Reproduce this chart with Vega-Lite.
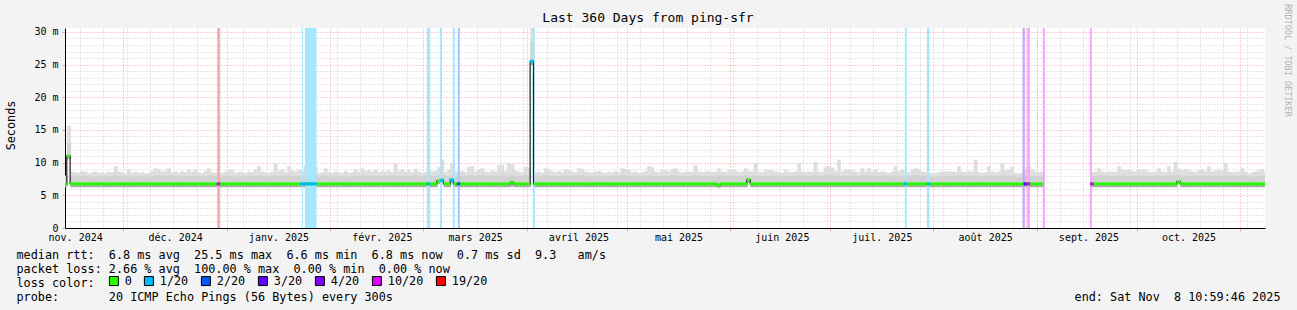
{
"$schema": "https://vega.github.io/schema/vega-lite/v6.json",
"width": 1200, "height": 200,
"autosize": {"type": "none"},
"padding": {"left": 65, "top": 28, "right": 32, "bottom": 82},
"background": "#f3f3f3",
"config": {
  "view": {"fill": "#ffffff", "stroke": null},
  "font": "DejaVu Sans Mono",
  "axis": {"labelFont": "DejaVu Sans Mono", "titleFont": "DejaVu Sans Mono", "titleFontWeight": "normal", "labelColor": "#000000", "titleColor": "#000000"}
},
"title": {"text": "Last 360 Days from ping-sfr", "font": "DejaVu Sans Mono", "fontSize": 13, "fontWeight": "normal", "color": "#000000", "anchor": "middle", "frame": "group", "dx": -17, "dy": 26, "offset": 5},
"datasets": {
"days": [
{"d":"2024-11-13","mx":8.0,"hi":7.8,"md":6.75,"lo":6.3},
{"d":"2024-11-14","mx":15.6,"hi":13.0,"md":11.0,"lo":10.6},
{"d":"2024-11-15","mx":8.6,"hi":7.9,"md":6.75,"lo":6.3},
{"d":"2024-11-16","mx":8.5,"hi":7.9,"md":6.75,"lo":6.3},
{"d":"2024-11-17","mx":8.4,"hi":7.8,"md":6.75,"lo":6.3},
{"d":"2024-11-18","mx":8.7,"hi":7.9,"md":6.75,"lo":6.3},
{"d":"2024-11-19","mx":8.6,"hi":7.9,"md":6.75,"lo":6.3},
{"d":"2024-11-20","mx":8.3,"hi":7.8,"md":6.75,"lo":6.3},
{"d":"2024-11-21","mx":8.5,"hi":7.9,"md":6.75,"lo":6.3},
{"d":"2024-11-22","mx":8.6,"hi":7.9,"md":6.75,"lo":6.3},
{"d":"2024-11-23","mx":8.4,"hi":7.8,"md":6.75,"lo":6.3},
{"d":"2024-11-24","mx":8.5,"hi":7.9,"md":6.75,"lo":6.3},
{"d":"2024-11-25","mx":8.3,"hi":7.8,"md":6.75,"lo":6.3},
{"d":"2024-11-26","mx":8.6,"hi":7.9,"md":6.75,"lo":6.3},
{"d":"2024-11-27","mx":8.5,"hi":7.9,"md":6.75,"lo":6.3},
{"d":"2024-11-28","mx":9.4,"hi":8.0,"md":6.75,"lo":6.3},
{"d":"2024-11-29","mx":8.6,"hi":7.9,"md":6.75,"lo":6.3},
{"d":"2024-11-30","mx":8.5,"hi":7.9,"md":6.75,"lo":6.3},
{"d":"2024-12-01","mx":8.3,"hi":7.8,"md":6.75,"lo":6.3},
{"d":"2024-12-02","mx":8.9,"hi":7.9,"md":6.75,"lo":6.3},
{"d":"2024-12-03","mx":8.4,"hi":7.8,"md":6.75,"lo":6.3},
{"d":"2024-12-04","mx":8.6,"hi":7.9,"md":6.75,"lo":6.3},
{"d":"2024-12-05","mx":8.4,"hi":7.8,"md":6.75,"lo":6.3},
{"d":"2024-12-06","mx":8.5,"hi":7.9,"md":6.75,"lo":6.3},
{"d":"2024-12-07","mx":8.3,"hi":7.8,"md":6.75,"lo":6.3},
{"d":"2024-12-08","mx":8.4,"hi":7.8,"md":6.75,"lo":6.3},
{"d":"2024-12-09","mx":8.7,"hi":7.9,"md":6.75,"lo":6.3},
{"d":"2024-12-10","mx":9.1,"hi":8.0,"md":6.75,"lo":6.3},
{"d":"2024-12-11","mx":9.0,"hi":8.0,"md":6.75,"lo":6.3},
{"d":"2024-12-12","mx":8.6,"hi":7.9,"md":6.75,"lo":6.3},
{"d":"2024-12-13","mx":8.8,"hi":7.9,"md":6.75,"lo":6.3},
{"d":"2024-12-14","mx":9.1,"hi":8.0,"md":6.75,"lo":6.3},
{"d":"2024-12-15","mx":8.5,"hi":7.9,"md":6.75,"lo":6.3},
{"d":"2024-12-16","mx":8.6,"hi":7.9,"md":6.75,"lo":6.3},
{"d":"2024-12-17","mx":8.4,"hi":7.8,"md":6.75,"lo":6.3},
{"d":"2024-12-18","mx":8.7,"hi":7.9,"md":6.75,"lo":6.3},
{"d":"2024-12-19","mx":8.5,"hi":7.9,"md":6.75,"lo":6.3},
{"d":"2024-12-20","mx":8.9,"hi":7.9,"md":6.75,"lo":6.3},
{"d":"2024-12-21","mx":8.6,"hi":7.9,"md":6.75,"lo":6.3},
{"d":"2024-12-22","mx":8.9,"hi":7.9,"md":6.75,"lo":6.3},
{"d":"2024-12-23","mx":8.5,"hi":7.9,"md":6.75,"lo":6.3},
{"d":"2024-12-24","mx":8.4,"hi":7.8,"md":6.75,"lo":6.3},
{"d":"2024-12-25","mx":8.7,"hi":7.9,"md":6.75,"lo":6.3},
{"d":"2024-12-26","mx":9.1,"hi":8.0,"md":6.75,"lo":6.3},
{"d":"2024-12-27","mx":8.5,"hi":7.9,"md":6.75,"lo":6.3},
{"d":"2024-12-28","mx":8.4,"hi":7.8,"md":6.75,"lo":6.3},
{"d":"2024-12-29","mx":8.3,"hi":7.8,"md":6.75,"lo":6.3},
{"d":"2024-12-30","mx":8.4,"hi":7.8,"md":6.75,"lo":6.3},
{"d":"2024-12-31","mx":8.6,"hi":7.9,"md":6.75,"lo":6.3},
{"d":"2025-01-01","mx":8.9,"hi":7.9,"md":6.75,"lo":6.3},
{"d":"2025-01-02","mx":8.9,"hi":7.9,"md":6.75,"lo":6.3},
{"d":"2025-01-03","mx":8.4,"hi":7.8,"md":6.75,"lo":6.3},
{"d":"2025-01-04","mx":8.6,"hi":7.9,"md":6.75,"lo":6.3},
{"d":"2025-01-05","mx":8.5,"hi":7.9,"md":6.75,"lo":6.3},
{"d":"2025-01-06","mx":8.3,"hi":7.8,"md":6.75,"lo":6.3},
{"d":"2025-01-07","mx":8.6,"hi":7.9,"md":6.75,"lo":6.3},
{"d":"2025-01-08","mx":8.5,"hi":7.9,"md":6.75,"lo":6.3},
{"d":"2025-01-09","mx":8.9,"hi":7.9,"md":6.75,"lo":6.3},
{"d":"2025-01-10","mx":9.4,"hi":8.0,"md":6.75,"lo":6.3},
{"d":"2025-01-11","mx":8.6,"hi":7.9,"md":6.75,"lo":6.3},
{"d":"2025-01-12","mx":8.5,"hi":7.9,"md":6.75,"lo":6.3},
{"d":"2025-01-13","mx":8.4,"hi":7.8,"md":6.75,"lo":6.3},
{"d":"2025-01-14","mx":8.6,"hi":7.9,"md":6.75,"lo":6.3},
{"d":"2025-01-15","mx":9.9,"hi":8.0,"md":6.75,"lo":6.3},
{"d":"2025-01-16","mx":8.7,"hi":7.9,"md":6.75,"lo":6.3},
{"d":"2025-01-17","mx":8.9,"hi":7.9,"md":6.75,"lo":6.3},
{"d":"2025-01-18","mx":8.5,"hi":7.9,"md":6.75,"lo":6.3},
{"d":"2025-01-19","mx":9.4,"hi":8.0,"md":6.75,"lo":6.3},
{"d":"2025-01-20","mx":8.8,"hi":7.9,"md":6.75,"lo":6.3},
{"d":"2025-01-21","mx":8.6,"hi":7.9,"md":6.75,"lo":6.3},
{"d":"2025-01-22","mx":8.9,"hi":7.9,"md":6.75,"lo":6.3},
{"d":"2025-01-23","mx":8.7,"hi":7.9,"md":6.75,"lo":6.3},
{"d":"2025-01-24","mx":9.5,"hi":8.0,"md":6.75,"lo":6.3},
{"d":"2025-01-25","mx":9.7,"hi":8.0,"md":6.75,"lo":6.3},
{"d":"2025-01-26","mx":9.0,"hi":8.0,"md":6.75,"lo":6.3},
{"d":"2025-01-27","mx":9.4,"hi":8.0,"md":6.75,"lo":6.3},
{"d":"2025-01-28","mx":8.4,"hi":7.8,"md":6.75,"lo":6.3},
{"d":"2025-01-29","mx":8.5,"hi":7.9,"md":6.75,"lo":6.3},
{"d":"2025-01-30","mx":9.1,"hi":8.0,"md":6.75,"lo":6.3},
{"d":"2025-01-31","mx":8.5,"hi":7.9,"md":6.75,"lo":6.3},
{"d":"2025-02-01","mx":8.4,"hi":7.8,"md":6.75,"lo":6.3},
{"d":"2025-02-02","mx":8.6,"hi":7.9,"md":6.75,"lo":6.3},
{"d":"2025-02-03","mx":8.5,"hi":7.9,"md":6.75,"lo":6.3},
{"d":"2025-02-04","mx":8.4,"hi":7.8,"md":6.75,"lo":6.3},
{"d":"2025-02-05","mx":8.7,"hi":7.9,"md":6.75,"lo":6.3},
{"d":"2025-02-06","mx":8.4,"hi":7.8,"md":6.75,"lo":6.3},
{"d":"2025-02-07","mx":8.5,"hi":7.9,"md":6.75,"lo":6.3},
{"d":"2025-02-08","mx":8.9,"hi":7.9,"md":6.75,"lo":6.3},
{"d":"2025-02-09","mx":8.6,"hi":7.9,"md":6.75,"lo":6.3},
{"d":"2025-02-10","mx":9.1,"hi":8.0,"md":6.75,"lo":6.3},
{"d":"2025-02-11","mx":8.7,"hi":7.9,"md":6.75,"lo":6.3},
{"d":"2025-02-12","mx":8.8,"hi":7.9,"md":6.75,"lo":6.3},
{"d":"2025-02-13","mx":8.6,"hi":7.9,"md":6.75,"lo":6.3},
{"d":"2025-02-14","mx":8.9,"hi":7.9,"md":6.75,"lo":6.3},
{"d":"2025-02-15","mx":8.5,"hi":7.9,"md":6.75,"lo":6.3},
{"d":"2025-02-16","mx":8.7,"hi":7.9,"md":6.75,"lo":6.3},
{"d":"2025-02-17","mx":8.6,"hi":7.9,"md":6.75,"lo":6.3},
{"d":"2025-02-18","mx":8.8,"hi":7.9,"md":6.75,"lo":6.3},
{"d":"2025-02-19","mx":8.5,"hi":7.9,"md":6.75,"lo":6.3},
{"d":"2025-02-20","mx":9.9,"hi":8.0,"md":6.75,"lo":6.3},
{"d":"2025-02-21","mx":8.7,"hi":7.9,"md":6.75,"lo":6.3},
{"d":"2025-02-22","mx":8.9,"hi":7.9,"md":6.75,"lo":6.3},
{"d":"2025-02-23","mx":8.6,"hi":7.9,"md":6.75,"lo":6.3},
{"d":"2025-02-24","mx":8.8,"hi":7.9,"md":6.75,"lo":6.3},
{"d":"2025-02-25","mx":8.5,"hi":7.9,"md":6.75,"lo":6.3},
{"d":"2025-02-26","mx":9.0,"hi":8.0,"md":6.75,"lo":6.3},
{"d":"2025-02-27","mx":8.6,"hi":7.9,"md":6.75,"lo":6.3},
{"d":"2025-02-28","mx":8.4,"hi":7.8,"md":6.75,"lo":6.3},
{"d":"2025-03-01","mx":8.5,"hi":7.9,"md":6.75,"lo":6.3},
{"d":"2025-03-02","mx":8.8,"hi":7.9,"md":6.75,"lo":6.3},
{"d":"2025-03-03","mx":8.6,"hi":7.9,"md":6.75,"lo":6.3},
{"d":"2025-03-04","mx":8.7,"hi":7.9,"md":6.75,"lo":6.3},
{"d":"2025-03-05","mx":9.3,"hi":8.0,"md":7.2,"lo":6.8},
{"d":"2025-03-06","mx":10.4,"hi":8.1,"md":7.3,"lo":6.9},
{"d":"2025-03-07","mx":8.5,"hi":7.9,"md":6.75,"lo":6.3},
{"d":"2025-03-08","mx":8.9,"hi":7.9,"md":6.75,"lo":6.3},
{"d":"2025-03-09","mx":9.9,"hi":8.1,"md":7.35,"lo":6.9},
{"d":"2025-03-10","mx":8.6,"hi":7.9,"md":6.75,"lo":6.3},
{"d":"2025-03-11","mx":8.5,"hi":7.9,"md":6.75,"lo":6.3},
{"d":"2025-03-12","mx":8.7,"hi":7.9,"md":6.75,"lo":6.3},
{"d":"2025-03-13","mx":8.5,"hi":7.9,"md":6.75,"lo":6.3},
{"d":"2025-03-14","mx":9.3,"hi":8.0,"md":6.75,"lo":6.3},
{"d":"2025-03-15","mx":9.4,"hi":8.0,"md":6.75,"lo":6.3},
{"d":"2025-03-16","mx":8.6,"hi":7.9,"md":6.75,"lo":6.3},
{"d":"2025-03-17","mx":9.0,"hi":8.0,"md":6.75,"lo":6.3},
{"d":"2025-03-18","mx":9.1,"hi":8.0,"md":6.75,"lo":6.3},
{"d":"2025-03-19","mx":8.6,"hi":7.9,"md":6.75,"lo":6.3},
{"d":"2025-03-20","mx":8.5,"hi":7.9,"md":6.75,"lo":6.3},
{"d":"2025-03-21","mx":8.8,"hi":7.9,"md":6.75,"lo":6.3},
{"d":"2025-03-22","mx":8.6,"hi":7.9,"md":6.75,"lo":6.3},
{"d":"2025-03-23","mx":9.6,"hi":8.0,"md":6.75,"lo":6.3},
{"d":"2025-03-24","mx":9.6,"hi":8.0,"md":6.75,"lo":6.3},
{"d":"2025-03-25","mx":8.7,"hi":7.9,"md":6.75,"lo":6.3},
{"d":"2025-03-26","mx":9.9,"hi":8.0,"md":6.75,"lo":6.3},
{"d":"2025-03-27","mx":9.7,"hi":8.0,"md":7.0,"lo":6.4},
{"d":"2025-03-28","mx":8.8,"hi":7.9,"md":6.75,"lo":6.3},
{"d":"2025-03-29","mx":8.6,"hi":7.9,"md":6.75,"lo":6.3},
{"d":"2025-03-30","mx":8.5,"hi":7.9,"md":6.75,"lo":6.3},
{"d":"2025-03-31","mx":9.3,"hi":8.0,"md":6.75,"lo":6.3},
{"d":"2025-04-01","mx":9.2,"hi":8.0,"md":6.75,"lo":6.3},
{"d":"2025-04-02","mx":31.0,"hi":28.5,"md":25.5,"lo":25.0},
{"d":"2025-04-03","mx":8.5,"hi":7.9,"md":6.75,"lo":6.3},
{"d":"2025-04-04","mx":8.6,"hi":7.9,"md":6.75,"lo":6.3},
{"d":"2025-04-05","mx":8.4,"hi":7.8,"md":6.75,"lo":6.3},
{"d":"2025-04-06","mx":9.1,"hi":8.0,"md":6.75,"lo":6.3},
{"d":"2025-04-07","mx":9.0,"hi":8.0,"md":6.75,"lo":6.3},
{"d":"2025-04-08","mx":8.6,"hi":7.9,"md":6.75,"lo":6.3},
{"d":"2025-04-09","mx":8.5,"hi":7.9,"md":6.75,"lo":6.3},
{"d":"2025-04-10","mx":8.7,"hi":7.9,"md":6.75,"lo":6.3},
{"d":"2025-04-11","mx":8.5,"hi":7.9,"md":6.75,"lo":6.3},
{"d":"2025-04-12","mx":8.9,"hi":7.9,"md":6.75,"lo":6.3},
{"d":"2025-04-13","mx":8.8,"hi":7.9,"md":6.75,"lo":6.3},
{"d":"2025-04-14","mx":8.6,"hi":7.9,"md":6.75,"lo":6.3},
{"d":"2025-04-15","mx":8.5,"hi":7.9,"md":6.75,"lo":6.3},
{"d":"2025-04-16","mx":9.1,"hi":8.0,"md":6.75,"lo":6.3},
{"d":"2025-04-17","mx":9.0,"hi":8.0,"md":6.75,"lo":6.3},
{"d":"2025-04-18","mx":8.6,"hi":7.9,"md":6.75,"lo":6.3},
{"d":"2025-04-19","mx":8.5,"hi":7.9,"md":6.75,"lo":6.3},
{"d":"2025-04-20","mx":8.4,"hi":7.8,"md":6.75,"lo":6.3},
{"d":"2025-04-21","mx":8.6,"hi":7.9,"md":6.75,"lo":6.3},
{"d":"2025-04-22","mx":8.7,"hi":7.9,"md":6.75,"lo":6.3},
{"d":"2025-04-23","mx":8.5,"hi":7.9,"md":6.75,"lo":6.3},
{"d":"2025-04-24","mx":8.4,"hi":7.8,"md":6.75,"lo":6.3},
{"d":"2025-04-25","mx":8.6,"hi":7.9,"md":6.75,"lo":6.3},
{"d":"2025-04-26","mx":8.5,"hi":7.9,"md":6.75,"lo":6.3},
{"d":"2025-04-27","mx":8.7,"hi":7.9,"md":6.75,"lo":6.3},
{"d":"2025-04-28","mx":8.5,"hi":7.9,"md":6.75,"lo":6.3},
{"d":"2025-04-29","mx":9.1,"hi":8.0,"md":6.75,"lo":6.3},
{"d":"2025-04-30","mx":9.0,"hi":8.0,"md":6.75,"lo":6.3},
{"d":"2025-05-01","mx":8.9,"hi":7.9,"md":6.75,"lo":6.3},
{"d":"2025-05-02","mx":8.5,"hi":7.9,"md":6.75,"lo":6.3},
{"d":"2025-05-03","mx":8.6,"hi":7.9,"md":6.75,"lo":6.3},
{"d":"2025-05-04","mx":8.4,"hi":7.8,"md":6.75,"lo":6.3},
{"d":"2025-05-05","mx":8.5,"hi":7.9,"md":6.75,"lo":6.3},
{"d":"2025-05-06","mx":8.7,"hi":7.9,"md":6.75,"lo":6.3},
{"d":"2025-05-07","mx":9.4,"hi":8.0,"md":6.75,"lo":6.3},
{"d":"2025-05-08","mx":9.3,"hi":8.0,"md":6.75,"lo":6.3},
{"d":"2025-05-09","mx":8.6,"hi":7.9,"md":6.75,"lo":6.3},
{"d":"2025-05-10","mx":8.5,"hi":7.9,"md":6.75,"lo":6.3},
{"d":"2025-05-11","mx":8.9,"hi":7.9,"md":6.75,"lo":6.3},
{"d":"2025-05-12","mx":8.8,"hi":7.9,"md":6.75,"lo":6.3},
{"d":"2025-05-13","mx":8.6,"hi":7.9,"md":6.75,"lo":6.3},
{"d":"2025-05-14","mx":9.0,"hi":8.0,"md":6.75,"lo":6.3},
{"d":"2025-05-15","mx":9.1,"hi":8.0,"md":6.75,"lo":6.3},
{"d":"2025-05-16","mx":8.6,"hi":7.9,"md":6.75,"lo":6.3},
{"d":"2025-05-17","mx":8.5,"hi":7.9,"md":6.75,"lo":6.3},
{"d":"2025-05-18","mx":8.6,"hi":7.9,"md":6.75,"lo":6.3},
{"d":"2025-05-19","mx":8.6,"hi":7.9,"md":6.75,"lo":6.3},
{"d":"2025-05-20","mx":8.5,"hi":7.9,"md":6.75,"lo":6.3},
{"d":"2025-05-21","mx":9.6,"hi":8.0,"md":6.75,"lo":6.3},
{"d":"2025-05-22","mx":8.6,"hi":7.9,"md":6.75,"lo":6.3},
{"d":"2025-05-23","mx":8.5,"hi":7.9,"md":6.75,"lo":6.3},
{"d":"2025-05-24","mx":8.6,"hi":7.9,"md":6.75,"lo":6.3},
{"d":"2025-05-25","mx":8.7,"hi":7.9,"md":6.75,"lo":6.3},
{"d":"2025-05-26","mx":8.5,"hi":7.9,"md":6.75,"lo":6.3},
{"d":"2025-05-27","mx":8.6,"hi":7.9,"md":6.75,"lo":6.3},
{"d":"2025-05-28","mx":9.1,"hi":8.0,"md":6.55,"lo":6.2},
{"d":"2025-05-29","mx":8.6,"hi":7.9,"md":6.75,"lo":6.3},
{"d":"2025-05-30","mx":8.5,"hi":7.9,"md":6.75,"lo":6.3},
{"d":"2025-05-31","mx":8.9,"hi":7.9,"md":6.75,"lo":6.3},
{"d":"2025-06-01","mx":8.9,"hi":7.9,"md":6.75,"lo":6.3},
{"d":"2025-06-02","mx":8.8,"hi":7.9,"md":6.75,"lo":6.3},
{"d":"2025-06-03","mx":8.5,"hi":7.9,"md":6.75,"lo":6.3},
{"d":"2025-06-04","mx":8.6,"hi":7.9,"md":6.75,"lo":6.3},
{"d":"2025-06-05","mx":9.1,"hi":8.0,"md":6.75,"lo":6.3},
{"d":"2025-06-06","mx":8.7,"hi":8.0,"md":7.4,"lo":7.0},
{"d":"2025-06-07","mx":8.6,"hi":7.9,"md":6.75,"lo":6.3},
{"d":"2025-06-08","mx":9.9,"hi":8.0,"md":6.75,"lo":6.3},
{"d":"2025-06-09","mx":8.6,"hi":7.9,"md":6.75,"lo":6.3},
{"d":"2025-06-10","mx":8.5,"hi":7.9,"md":6.75,"lo":6.3},
{"d":"2025-06-11","mx":8.9,"hi":7.9,"md":6.75,"lo":6.3},
{"d":"2025-06-12","mx":8.9,"hi":7.9,"md":6.75,"lo":6.3},
{"d":"2025-06-13","mx":8.8,"hi":7.9,"md":6.75,"lo":6.3},
{"d":"2025-06-14","mx":8.6,"hi":7.9,"md":6.75,"lo":6.3},
{"d":"2025-06-15","mx":8.5,"hi":7.9,"md":6.75,"lo":6.3},
{"d":"2025-06-16","mx":8.4,"hi":7.8,"md":6.75,"lo":6.3},
{"d":"2025-06-17","mx":8.9,"hi":7.9,"md":6.75,"lo":6.3},
{"d":"2025-06-18","mx":8.6,"hi":7.9,"md":6.75,"lo":6.3},
{"d":"2025-06-19","mx":8.5,"hi":7.9,"md":6.75,"lo":6.3},
{"d":"2025-06-20","mx":8.6,"hi":7.9,"md":6.75,"lo":6.3},
{"d":"2025-06-21","mx":9.9,"hi":8.0,"md":6.75,"lo":6.3},
{"d":"2025-06-22","mx":8.6,"hi":7.9,"md":6.75,"lo":6.3},
{"d":"2025-06-23","mx":8.5,"hi":7.9,"md":6.75,"lo":6.3},
{"d":"2025-06-24","mx":8.6,"hi":7.9,"md":6.75,"lo":6.3},
{"d":"2025-06-25","mx":8.5,"hi":7.9,"md":6.75,"lo":6.3},
{"d":"2025-06-26","mx":10.1,"hi":8.0,"md":6.75,"lo":6.3},
{"d":"2025-06-27","mx":8.6,"hi":7.9,"md":6.75,"lo":6.3},
{"d":"2025-06-28","mx":8.5,"hi":7.9,"md":6.75,"lo":6.3},
{"d":"2025-06-29","mx":9.3,"hi":8.0,"md":6.75,"lo":6.3},
{"d":"2025-06-30","mx":9.4,"hi":8.0,"md":6.75,"lo":6.3},
{"d":"2025-07-01","mx":9.2,"hi":8.0,"md":6.75,"lo":6.3},
{"d":"2025-07-02","mx":8.7,"hi":7.9,"md":6.75,"lo":6.3},
{"d":"2025-07-03","mx":10.4,"hi":8.0,"md":6.75,"lo":6.3},
{"d":"2025-07-04","mx":8.6,"hi":7.9,"md":6.75,"lo":6.3},
{"d":"2025-07-05","mx":8.9,"hi":7.9,"md":6.75,"lo":6.3},
{"d":"2025-07-06","mx":8.9,"hi":7.9,"md":6.75,"lo":6.3},
{"d":"2025-07-07","mx":8.8,"hi":7.9,"md":6.75,"lo":6.3},
{"d":"2025-07-08","mx":8.6,"hi":7.9,"md":6.75,"lo":6.3},
{"d":"2025-07-09","mx":8.5,"hi":7.9,"md":6.75,"lo":6.3},
{"d":"2025-07-10","mx":9.1,"hi":8.0,"md":6.75,"lo":6.3},
{"d":"2025-07-11","mx":8.6,"hi":7.9,"md":6.75,"lo":6.3},
{"d":"2025-07-12","mx":9.1,"hi":8.0,"md":6.75,"lo":6.3},
{"d":"2025-07-13","mx":8.6,"hi":7.9,"md":6.75,"lo":6.3},
{"d":"2025-07-14","mx":8.9,"hi":7.9,"md":6.75,"lo":6.3},
{"d":"2025-07-15","mx":8.5,"hi":7.9,"md":6.75,"lo":6.3},
{"d":"2025-07-16","mx":8.6,"hi":7.9,"md":6.75,"lo":6.3},
{"d":"2025-07-17","mx":8.5,"hi":7.9,"md":6.75,"lo":6.3},
{"d":"2025-07-18","mx":8.4,"hi":7.8,"md":6.75,"lo":6.3},
{"d":"2025-07-19","mx":8.6,"hi":7.9,"md":6.75,"lo":6.3},
{"d":"2025-07-20","mx":9.4,"hi":8.0,"md":6.75,"lo":6.3},
{"d":"2025-07-21","mx":8.7,"hi":7.9,"md":6.75,"lo":6.3},
{"d":"2025-07-22","mx":8.9,"hi":7.9,"md":6.75,"lo":6.3},
{"d":"2025-07-23","mx":8.6,"hi":7.9,"md":6.75,"lo":6.3},
{"d":"2025-07-24","mx":8.5,"hi":7.9,"md":6.75,"lo":6.3},
{"d":"2025-07-25","mx":8.9,"hi":7.9,"md":6.75,"lo":6.3},
{"d":"2025-07-26","mx":9.1,"hi":8.0,"md":6.75,"lo":6.3},
{"d":"2025-07-27","mx":9.0,"hi":8.0,"md":6.75,"lo":6.3},
{"d":"2025-07-28","mx":8.6,"hi":7.9,"md":6.75,"lo":6.3},
{"d":"2025-07-29","mx":8.5,"hi":7.9,"md":6.75,"lo":6.3},
{"d":"2025-07-30","mx":8.4,"hi":7.8,"md":6.75,"lo":6.3},
{"d":"2025-07-31","mx":8.3,"hi":7.8,"md":6.75,"lo":6.3},
{"d":"2025-08-01","mx":8.4,"hi":7.8,"md":6.75,"lo":6.3},
{"d":"2025-08-02","mx":8.5,"hi":7.9,"md":6.75,"lo":6.3},
{"d":"2025-08-03","mx":8.6,"hi":7.9,"md":6.75,"lo":6.3},
{"d":"2025-08-04","mx":8.6,"hi":7.9,"md":6.75,"lo":6.3},
{"d":"2025-08-05","mx":8.7,"hi":7.9,"md":6.75,"lo":6.3},
{"d":"2025-08-06","mx":8.6,"hi":7.9,"md":6.75,"lo":6.3},
{"d":"2025-08-07","mx":8.5,"hi":7.9,"md":6.75,"lo":6.3},
{"d":"2025-08-08","mx":9.4,"hi":8.0,"md":6.75,"lo":6.3},
{"d":"2025-08-09","mx":8.6,"hi":7.9,"md":6.75,"lo":6.3},
{"d":"2025-08-10","mx":8.5,"hi":7.9,"md":6.75,"lo":6.3},
{"d":"2025-08-11","mx":8.7,"hi":7.9,"md":6.75,"lo":6.3},
{"d":"2025-08-12","mx":8.6,"hi":7.9,"md":6.75,"lo":6.3},
{"d":"2025-08-13","mx":10.4,"hi":8.0,"md":6.75,"lo":6.3},
{"d":"2025-08-14","mx":8.5,"hi":7.9,"md":6.75,"lo":6.3},
{"d":"2025-08-15","mx":8.4,"hi":7.8,"md":6.75,"lo":6.3},
{"d":"2025-08-16","mx":8.5,"hi":7.9,"md":6.75,"lo":6.3},
{"d":"2025-08-17","mx":9.4,"hi":8.0,"md":6.75,"lo":6.3},
{"d":"2025-08-18","mx":8.6,"hi":7.9,"md":6.75,"lo":6.3},
{"d":"2025-08-19","mx":8.5,"hi":7.9,"md":6.75,"lo":6.3},
{"d":"2025-08-20","mx":8.6,"hi":7.9,"md":6.75,"lo":6.3},
{"d":"2025-08-21","mx":9.9,"hi":8.0,"md":6.75,"lo":6.3},
{"d":"2025-08-22","mx":8.8,"hi":7.9,"md":6.75,"lo":6.3},
{"d":"2025-08-23","mx":8.9,"hi":7.9,"md":6.75,"lo":6.3},
{"d":"2025-08-24","mx":9.3,"hi":8.0,"md":6.75,"lo":6.3},
{"d":"2025-08-25","mx":8.4,"hi":7.8,"md":6.75,"lo":6.3},
{"d":"2025-08-26","mx":8.3,"hi":7.8,"md":6.75,"lo":6.3},
{"d":"2025-08-27","mx":8.4,"hi":7.8,"md":6.75,"lo":6.3},
{"d":"2025-08-28","mx":9.0,"hi":8.0,"md":6.75,"lo":6.3},
{"d":"2025-08-29","mx":9.4,"hi":8.0,"md":6.75,"lo":6.3},
{"d":"2025-08-30","mx":8.9,"hi":7.9,"md":6.75,"lo":6.3},
{"d":"2025-08-31","mx":8.6,"hi":7.9,"md":6.75,"lo":6.3},
{"d":"2025-09-01","mx":8.5,"hi":7.9,"md":6.75,"lo":6.3},
{"d":"2025-09-02","mx":8.6,"hi":7.9,"md":6.75,"lo":6.3},
{"d":"2025-09-17","mx":8.5,"hi":7.9,"md":6.75,"lo":6.3},
{"d":"2025-09-18","mx":8.6,"hi":7.9,"md":6.75,"lo":6.3},
{"d":"2025-09-19","mx":9.1,"hi":8.0,"md":6.75,"lo":6.3},
{"d":"2025-09-20","mx":8.6,"hi":7.9,"md":6.75,"lo":6.3},
{"d":"2025-09-21","mx":8.5,"hi":7.9,"md":6.75,"lo":6.3},
{"d":"2025-09-22","mx":8.6,"hi":7.9,"md":6.75,"lo":6.3},
{"d":"2025-09-23","mx":8.6,"hi":7.9,"md":6.75,"lo":6.3},
{"d":"2025-09-24","mx":8.5,"hi":7.9,"md":6.75,"lo":6.3},
{"d":"2025-09-25","mx":9.4,"hi":8.0,"md":6.75,"lo":6.3},
{"d":"2025-09-26","mx":8.9,"hi":7.9,"md":6.75,"lo":6.3},
{"d":"2025-09-27","mx":8.8,"hi":7.9,"md":6.75,"lo":6.3},
{"d":"2025-09-28","mx":8.9,"hi":7.9,"md":6.75,"lo":6.3},
{"d":"2025-09-29","mx":8.7,"hi":7.9,"md":6.75,"lo":6.3},
{"d":"2025-09-30","mx":8.6,"hi":7.9,"md":6.75,"lo":6.3},
{"d":"2025-10-01","mx":8.9,"hi":7.9,"md":6.75,"lo":6.3},
{"d":"2025-10-02","mx":8.8,"hi":7.9,"md":6.75,"lo":6.3},
{"d":"2025-10-03","mx":8.9,"hi":7.9,"md":6.75,"lo":6.3},
{"d":"2025-10-04","mx":8.6,"hi":7.9,"md":6.75,"lo":6.3},
{"d":"2025-10-05","mx":8.5,"hi":7.9,"md":6.75,"lo":6.3},
{"d":"2025-10-06","mx":8.6,"hi":7.9,"md":6.75,"lo":6.3},
{"d":"2025-10-07","mx":9.1,"hi":8.0,"md":6.75,"lo":6.3},
{"d":"2025-10-08","mx":8.6,"hi":7.9,"md":6.75,"lo":6.3},
{"d":"2025-10-09","mx":8.5,"hi":7.9,"md":6.75,"lo":6.3},
{"d":"2025-10-10","mx":9.4,"hi":8.0,"md":6.75,"lo":6.3},
{"d":"2025-10-11","mx":8.6,"hi":7.9,"md":6.75,"lo":6.3},
{"d":"2025-10-12","mx":10.1,"hi":8.0,"md":6.75,"lo":6.3},
{"d":"2025-10-13","mx":9.0,"hi":8.0,"md":7.1,"lo":6.85},
{"d":"2025-10-14","mx":8.8,"hi":7.9,"md":6.75,"lo":6.3},
{"d":"2025-10-15","mx":8.9,"hi":7.9,"md":6.75,"lo":6.3},
{"d":"2025-10-16","mx":8.8,"hi":7.9,"md":6.75,"lo":6.3},
{"d":"2025-10-17","mx":8.6,"hi":7.9,"md":6.75,"lo":6.3},
{"d":"2025-10-18","mx":8.5,"hi":7.9,"md":6.75,"lo":6.3},
{"d":"2025-10-19","mx":8.8,"hi":7.9,"md":6.75,"lo":6.3},
{"d":"2025-10-20","mx":8.9,"hi":7.9,"md":6.75,"lo":6.3},
{"d":"2025-10-21","mx":8.6,"hi":7.9,"md":6.75,"lo":6.3},
{"d":"2025-10-22","mx":9.4,"hi":8.0,"md":6.75,"lo":6.3},
{"d":"2025-10-23","mx":8.6,"hi":7.9,"md":6.75,"lo":6.3},
{"d":"2025-10-24","mx":8.8,"hi":7.9,"md":6.75,"lo":6.3},
{"d":"2025-10-25","mx":8.9,"hi":7.9,"md":6.75,"lo":6.3},
{"d":"2025-10-26","mx":8.7,"hi":7.9,"md":6.75,"lo":6.3},
{"d":"2025-10-27","mx":9.9,"hi":8.0,"md":6.75,"lo":6.3},
{"d":"2025-10-28","mx":8.6,"hi":7.9,"md":6.75,"lo":6.3},
{"d":"2025-10-29","mx":8.5,"hi":7.9,"md":6.75,"lo":6.3},
{"d":"2025-10-30","mx":8.6,"hi":7.9,"md":6.75,"lo":6.3},
{"d":"2025-10-31","mx":8.6,"hi":7.9,"md":6.75,"lo":6.3},
{"d":"2025-11-01","mx":9.1,"hi":8.0,"md":6.75,"lo":6.3},
{"d":"2025-11-02","mx":8.6,"hi":7.9,"md":6.75,"lo":6.3},
{"d":"2025-11-03","mx":8.3,"hi":7.8,"md":6.75,"lo":6.3},
{"d":"2025-11-04","mx":8.5,"hi":7.9,"md":6.75,"lo":6.3},
{"d":"2025-11-05","mx":8.6,"hi":7.9,"md":6.75,"lo":6.3},
{"d":"2025-11-06","mx":8.8,"hi":7.9,"md":6.75,"lo":6.3},
{"d":"2025-11-07","mx":8.9,"hi":7.9,"md":6.75,"lo":6.3},
{"d":"2025-11-08","mx":8.5,"hi":7.9,"md":6.75,"lo":6.3}
],
"markers": [
{"d":"2024-12-29","md":6.75,"loss":"10/20"},
{"d":"2025-01-23","md":6.75,"loss":"1/20"},
{"d":"2025-01-24","md":6.75,"loss":"1/20"},
{"d":"2025-01-25","md":6.75,"loss":"1/20"},
{"d":"2025-01-26","md":6.75,"loss":"1/20"},
{"d":"2025-01-27","md":6.75,"loss":"1/20"},
{"d":"2025-03-02","md":6.75,"loss":"1/20"},
{"d":"2025-03-06","md":7.3,"loss":"1/20"},
{"d":"2025-03-09","md":7.35,"loss":"1/20"},
{"d":"2025-03-11","md":6.75,"loss":"2/20"},
{"d":"2025-04-02","md":25.5,"loss":"1/20"},
{"d":"2025-07-23","md":6.75,"loss":"1/20"},
{"d":"2025-07-30","md":6.75,"loss":"1/20"},
{"d":"2025-08-28","md":6.75,"loss":"3/20"},
{"d":"2025-08-29","md":6.75,"loss":"10/20"},
{"d":"2025-09-17","md":6.75,"loss":"10/20"}
],
"lossbars": [
{"s":"2024-12-29T02:00:00Z","e":"2024-12-29T09:00:00Z","loss":"10/20"},
{"s":"2024-12-29T09:00:00Z","e":"2024-12-29T22:00:00Z","loss":"19/20"},
{"s":"2025-01-23T12:00:00Z","e":"2025-01-23T19:00:00Z","loss":"1/20"},
{"s":"2025-01-24T10:00:00Z","e":"2025-01-27T22:00:00Z","loss":"1/20"},
{"s":"2025-03-02T00:00:00Z","e":"2025-03-02T22:00:00Z","loss":"1/20"},
{"s":"2025-03-06T00:00:00Z","e":"2025-03-06T14:00:00Z","loss":"1/20"},
{"s":"2025-03-09T19:00:00Z","e":"2025-03-10T10:00:00Z","loss":"1/20"},
{"s":"2025-03-11T07:00:00Z","e":"2025-03-11T22:00:00Z","loss":"2/20"},
{"s":"2025-04-02T19:00:00Z","e":"2025-04-03T10:00:00Z","loss":"1/20"},
{"s":"2025-07-23T10:00:00Z","e":"2025-07-24T00:00:00Z","loss":"1/20"},
{"s":"2025-07-30T00:00:00Z","e":"2025-07-30T19:00:00Z","loss":"1/20"},
{"s":"2025-08-27T17:00:00Z","e":"2025-08-28T10:00:00Z","loss":"3/20"},
{"s":"2025-08-28T22:00:00Z","e":"2025-08-29T05:00:00Z","loss":"19/20"},
{"s":"2025-08-29T05:00:00Z","e":"2025-08-29T22:00:00Z","loss":"10/20"},
{"s":"2025-09-02T19:00:00Z","e":"2025-09-03T10:00:00Z","loss":"10/20"},
{"s":"2025-09-16T22:00:00Z","e":"2025-09-17T12:00:00Z","loss":"10/20"}
]
},
"layer": [
{
 "data": {"name": "days"},
 "mark": {"type": "rect", "clip": true, "fill": "#dedede", "stroke": "#dedede", "strokeWidth": 0.5},
 "encoding": {
  "x": {"field": "d", "type": "temporal", "timeUnit": "utcyearmonthdate",
        "scale": {"type": "utc", "nice": false, "domain": [{"year": 2024, "month": 11, "date": 13, "hours": 11, "utc": true}, {"year": 2025, "month": 11, "date": 8, "hours": 11, "utc": true}]},
        "axis": {"orient": "bottom", "values": [1731888000000,1732492800000,1733097600000,1733702400000,1734307200000,1734912000000,1735516800000,1736121600000,1736726400000,1737331200000,1737936000000,1738540800000,1739145600000,1739750400000,1740355200000,1740960000000,1741564800000,1742169600000,1742774400000,1743379200000,1743984000000,1744588800000,1745193600000,1745798400000,1746403200000,1747008000000,1747612800000,1748217600000,1748822400000,1749427200000,1750032000000,1750636800000,1751241600000,1751846400000,1752451200000,1753056000000,1753660800000,1754265600000,1754870400000,1755475200000,1756080000000,1756684800000,1757289600000,1757894400000,1758499200000,1759104000000,1759708800000,1760313600000,1760918400000,1761523200000,1762128000000],
                 "grid": true, "gridColor": "#cfcfcf", "gridDash": [1, 2], "gridWidth": 1, "labels": false, "ticks": false, "domain": false, "title": null}},
  "y": {"field": "lo", "type": "quantitative", "scale": {"domain": [0, 30.6], "nice": false, "zero": false},
        "axis": {"orient": "left", "values": [1,2,3,4,6,7,8,9,11,12,13,14,16,17,18,19,21,22,23,24,26,27,28,29], "grid": true, "gridColor": "#cfcfcf", "gridDash": [1, 2], "gridWidth": 1, "labels": false, "ticks": false, "domain": false, "title": null}},
  "y2": {"field": "mx"}
 }
},
{
 "data": {"name": "days"},
 "mark": {"type": "rect", "clip": true, "fill": "#d2d2d2", "stroke": "#d2d2d2", "strokeWidth": 0.5},
 "encoding": {
  "x": {"field": "d", "type": "temporal", "timeUnit": "utcyearmonthdate",
        "scale": {"type": "utc", "nice": false, "domain": [{"year": 2024, "month": 11, "date": 13, "hours": 11, "utc": true}, {"year": 2025, "month": 11, "date": 8, "hours": 11, "utc": true}]}, "axis": null},
  "y": {"field": "lo", "type": "quantitative", "scale": {"domain": [0, 30.6], "nice": false, "zero": false},
        "axis": {"orient": "right", "grid": false, "labels": false, "ticks": false, "domain": false, "title": "RRDTOOL / TOBI OETIKER", "titleAngle": 90, "titleX": 22, "titleY": 32, "titleAlign": "center", "titleBaseline": "middle", "titleFontSize": 8.5, "titleColor": "#b4b4b4"}},
  "y2": {"field": "hi"}
 }
},
{
 "data": {"name": "days"},
 "mark": {"type": "rect", "clip": true, "fill": "#ababab", "stroke": "#ababab", "strokeWidth": 0.5},
 "encoding": {
  "x": {"field": "d", "type": "temporal", "timeUnit": "utcyearmonthdate",
        "scale": {"type": "utc", "nice": false, "domain": [{"year": 2024, "month": 11, "date": 13, "hours": 11, "utc": true}, {"year": 2025, "month": 11, "date": 8, "hours": 11, "utc": true}]}, "axis": null},
  "y": {"field": "lo", "type": "quantitative", "scale": {"domain": [0, 30.6], "nice": false, "zero": false}, "axis": null},
  "y2": {"field": "md"}
 }
},
{
 "data": {"name": "lossbars"},
 "mark": {"type": "rect", "clip": true},
 "encoding": {
  "x": {"field": "s", "type": "temporal",
        "scale": {"type": "utc", "nice": false, "domain": [{"year": 2024, "month": 11, "date": 13, "hours": 11, "utc": true}, {"year": 2025, "month": 11, "date": 8, "hours": 11, "utc": true}]}, "axis": null},
  "x2": {"field": "e"},
  "y": {"datum": 0, "type": "quantitative", "scale": {"domain": [0, 30.6], "nice": false, "zero": false}, "axis": null},
  "y2": {"datum": 30.6},
  "fill": {"field": "loss", "type": "nominal", "legend": null,
           "scale": {"domain": ["1/20","2/20","3/20","4/20","10/20","19/20"], "range": ["#a6e6ff","#a6c5ff","#c8a6ff","#d5a6ff","#f4a6ff","#f8a6a6"]}}
 }
},
{
 "data": {"name": "days"},
 "transform": [{"filter": "time(datum.d) < utc(2025, 8, 10)"}],
 "mark": {"type": "line", "interpolate": "step", "color": "#202020", "strokeWidth": 1.2, "clip": true},
 "encoding": {
  "x": {"field": "d", "type": "temporal", "timeUnit": "utcyearmonthdate", "bandPosition": 0.5,
        "scale": {"type": "utc", "nice": false, "domain": [{"year": 2024, "month": 11, "date": 13, "hours": 11, "utc": true}, {"year": 2025, "month": 11, "date": 8, "hours": 11, "utc": true}]},
        "axis": {"orient": "bottom", "values": [{"year": 2024, "month": 12, "date": 1, "utc": true}, {"year": 2025, "month": 1, "date": 1, "utc": true}, {"year": 2025, "month": 2, "date": 1, "utc": true}, {"year": 2025, "month": 3, "date": 1, "utc": true}, {"year": 2025, "month": 4, "date": 1, "utc": true}, {"year": 2025, "month": 5, "date": 1, "utc": true}, {"year": 2025, "month": 6, "date": 1, "utc": true}, {"year": 2025, "month": 7, "date": 1, "utc": true}, {"year": 2025, "month": 8, "date": 1, "utc": true}, {"year": 2025, "month": 9, "date": 1, "utc": true}, {"year": 2025, "month": 10, "date": 1, "utc": true}, {"year": 2025, "month": 11, "date": 1, "utc": true}],
                 "grid": true, "gridColor": "#eea0a0", "gridDash": [1, 2], "gridWidth": 1, "ticks": true, "tickColor": "#eea0a0", "tickSize": 3, "labels": false, "domain": false,
                 "title": "end: Sat Nov\u00a0\u00a08 10:59:46 2025", "titleX": 1215, "titleY": 72, "titleAlign": "right", "titleAnchor": "end", "titleBaseline": "alphabetic", "titleFontSize": 11.8, "titleFontWeight": "normal"}},
  "y": {"field": "md", "type": "quantitative", "scale": {"domain": [0, 30.6], "nice": false, "zero": false}, "axis": null}
 }
},
{
 "data": {"name": "days"},
 "transform": [{"filter": "time(datum.d) > utc(2025, 8, 10)"}],
 "mark": {"type": "line", "interpolate": "step", "color": "#202020", "strokeWidth": 1.2, "clip": true},
 "encoding": {
  "x": {"field": "d", "type": "temporal", "timeUnit": "utcyearmonthdate", "bandPosition": 0.5,
        "scale": {"type": "utc", "nice": false, "domain": [{"year": 2024, "month": 11, "date": 13, "hours": 11, "utc": true}, {"year": 2025, "month": 11, "date": 8, "hours": 11, "utc": true}]}, "axis": null},
  "y": {"field": "md", "type": "quantitative", "scale": {"domain": [0, 30.6], "nice": false, "zero": false}, "axis": null}
 }
},
{
 "data": {"name": "days"},
 "mark": {"type": "tick", "orient": "horizontal", "size": 3.4, "thickness": 3, "color": "#26ff00", "opacity": 1, "clip": true},
 "encoding": {
  "x": {"field": "d", "type": "temporal", "timeUnit": "utcyearmonthdate", "bandPosition": 0.5,
        "scale": {"type": "utc", "nice": false, "domain": [{"year": 2024, "month": 11, "date": 13, "hours": 11, "utc": true}, {"year": 2025, "month": 11, "date": 8, "hours": 11, "utc": true}]}, "axis": null},
  "y": {"field": "md", "type": "quantitative", "scale": {"domain": [0, 30.6], "nice": false, "zero": false}, "axis": null}
 }
},
{
 "data": {"name": "markers"},
 "mark": {"type": "tick", "orient": "horizontal", "size": 3.4, "thickness": 3, "opacity": 1, "clip": true},
 "encoding": {
  "x": {"field": "d", "type": "temporal", "timeUnit": "utcyearmonthdate", "bandPosition": 0.5,
        "scale": {"type": "utc", "nice": false, "domain": [{"year": 2024, "month": 11, "date": 13, "hours": 11, "utc": true}, {"year": 2025, "month": 11, "date": 8, "hours": 11, "utc": true}]},
        "axis": {"orient": "bottom", "values": [{"year": 2024, "month": 11, "date": 16, "hours": 12, "utc": true}, {"year": 2024, "month": 12, "date": 16, "hours": 12, "utc": true}, {"year": 2025, "month": 1, "date": 16, "hours": 12, "utc": true}, {"year": 2025, "month": 2, "date": 16, "hours": 12, "utc": true}, {"year": 2025, "month": 3, "date": 16, "hours": 12, "utc": true}, {"year": 2025, "month": 4, "date": 16, "hours": 12, "utc": true}, {"year": 2025, "month": 5, "date": 16, "hours": 12, "utc": true}, {"year": 2025, "month": 6, "date": 16, "hours": 12, "utc": true}, {"year": 2025, "month": 7, "date": 16, "hours": 12, "utc": true}, {"year": 2025, "month": 8, "date": 16, "hours": 12, "utc": true}, {"year": 2025, "month": 9, "date": 16, "hours": 12, "utc": true}, {"year": 2025, "month": 10, "date": 16, "hours": 12, "utc": true}],
                 "labelExpr": "['janv.','févr.','mars','avril','mai','juin','juil.','août','sept.','oct.','nov.','déc.'][utcmonth(datum.value)] + ' ' + utcyear(datum.value)",
                 "grid": false, "ticks": false, "domain": true, "domainColor": "#000000", "domainWidth": 1, "labelFontSize": 10, "labelPadding": 4, "labelFlush": false, "labelOverlap": false,
                 "title": ["median rtt:\u00a0\u00a06.8 ms avg\u00a0\u00a025.5 ms max\u00a0\u00a06.6 ms min\u00a0\u00a06.8 ms now\u00a0\u00a00.7 ms sd\u00a0\u00a09.3\u00a0\u00a0\u00a0am/s", "packet loss: 2.66 % avg\u00a0\u00a0100.00 % max\u00a0\u00a00.00 % min\u00a0\u00a00.00 % now", "loss color:", "probe:\u00a0\u00a0\u00a0\u00a0\u00a0\u00a0\u00a020 ICMP Echo Pings (56 Bytes) every 300s"],
                 "titleX": -49, "titleY": 30, "titleAlign": "left", "titleAnchor": "start", "titleBaseline": "alphabetic", "titleFontSize": 11.8, "titleLineHeight": 14, "titleFontWeight": "normal"}},
  "y": {"field": "md", "type": "quantitative", "scale": {"domain": [0, 30.6], "nice": false, "zero": false},
        "axis": {"orient": "left", "values": [0, 5, 10, 15, 20, 25, 30], "labelExpr": "datum.value == 0 ? '0' : datum.value + ' m'",
                 "grid": true, "gridColor": "#eea0a0", "gridDash": [1, 2], "gridWidth": 1, "ticks": true, "tickColor": "#eea0a0", "tickSize": 3, "domain": true, "domainColor": "#000000", "domainWidth": 1,
                 "labelFontSize": 10, "labelPadding": 4,
                 "title": "Seconds", "titleX": -55, "titleY": 97, "titleAngle": 270, "titleAlign": "center", "titleBaseline": "middle", "titleFontSize": 11.8, "titleFontWeight": "normal"}},
  "color": {"field": "loss", "type": "nominal",
            "scale": {"domain": ["0","1/20","2/20","3/20","4/20","10/20","19/20"], "range": ["#26ff00","#00b8ff","#0059ff","#5e00ff","#7e00ff","#dd00ff","#ff0000"]},
            "legend": {"orient": "none", "legendX": 43, "legendY": 247, "direction": "horizontal", "title": null, "padding": 0,
                       "symbolType": "square", "symbolSize": 81, "symbolStrokeColor": "#000000", "symbolStrokeWidth": 1, "symbolOpacity": 1,
                       "labelFont": "DejaVu Sans Mono", "labelFontSize": 11.8, "labelColor": "#000000", "labelOffset": 5, "columnPadding": 10, "labelLimit": 0,
                       "encode": {"symbols": {"update": {"stroke": {"value": "#000000"}, "strokeWidth": {"value": 1}, "shape": {"value": "square"}, "size": {"value": 81}, "opacity": {"value": 1}}}}}}
 }
}
],
"resolve": {"axis": {"x": "independent", "y": "independent"}}
}
